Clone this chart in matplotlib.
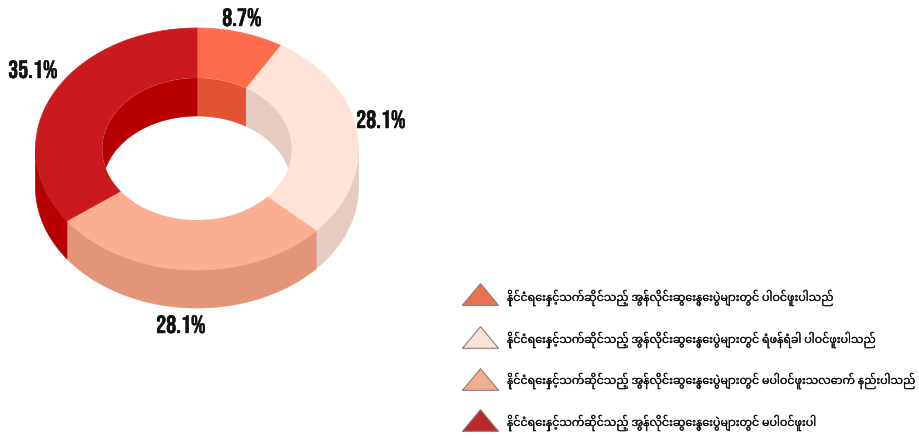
import numpy as np
import matplotlib
matplotlib.use("Agg")
import matplotlib.pyplot as plt
import matplotlib.patheffects as pe
from matplotlib.patches import Ellipse

values = [8.7, 28.1, 28.1, 35.1]
value_labels = ["8.7%", "28.1%", "28.1%", "35.1%"]
top_colors = ["#FF6B4D", "#FFE3D8", "#FBAE90", "#CB1A1E"]
side_colors = ["#E25333", "#E6CCC0", "#E29677", "#B70000"]
legend_colors = ["#E9714F", "#F8E3D8", "#F0AD90", "#B9292B"]
legend_labels = [
    "နိုင်ငံရေးနှင့်သက်ဆိုင်သည့် အွန်လိုင်းဆွေးနွေးပွဲများတွင် ပါဝင်ဖူးပါသည်",
    "နိုင်ငံရေးနှင့်သက်ဆိုင်သည့် အွန်လိုင်းဆွေးနွေးပွဲများတွင် ရံဖန်ရံခါ ပါဝင်ဖူးပါသည်",
    "နိုင်ငံရေးနှင့်သက်ဆိုင်သည့် အွန်လိုင်းဆွေးနွေးပွဲများတွင် မပါဝင်ဖူးသလောက် နည်းပါသည်",
    "နိုင်ငံရေးနှင့်သက်ဆိုင်သည့် အွန်လိုင်းဆွေးနွေးပွဲများတွင် မပါဝင်ဖူးပါ",
]

# ring geometry in pixels
cx, cy = 197, 150
rx, ry = 161.5, 121
hole = 0.587
depth = 38


def arc(a, b, scale, dy=0):
    t = np.radians(np.linspace(a, b, 100))
    return cx + scale * rx * np.sin(t), cy + dy - scale * ry * np.cos(t)


fig = plt.figure(figsize=(9.19, 4.39), dpi=100)
ax = fig.add_axes([0, 0, 1, 1])
ax.set_xlim(0, 919)
ax.set_ylim(439, 0)
ax.axis("off")

edges = np.concatenate([[0], np.cumsum(values)]) / sum(values) * 360

# outer walls, only the front half shows
for i in range(4):
    a, b = max(edges[i], 90), min(edges[i + 1], 270)
    if a < b:
        x1, y1 = arc(a, b, 1)
        x2, y2 = arc(b, a, 1, depth)
        ax.fill(np.r_[x1, x2], np.r_[y1, y2], color=side_colors[i], lw=0.5)

# top face
for i in range(4):
    x1, y1 = arc(edges[i], edges[i + 1], 1)
    x2, y2 = arc(edges[i + 1], edges[i], hole)
    ax.fill(np.r_[x1, x2], np.r_[y1, y2], color=top_colors[i], lw=0.5)

inner = Ellipse((cx, cy), 2 * hole * rx, 2 * hole * ry, color="white", lw=0, zorder=3)
ax.add_patch(inner)

# inner walls, only the back half shows
for i in range(4):
    for lo, hi in [(-90, 90), (270, 450)]:
        a, b = max(edges[i], lo), min(edges[i + 1], hi)
        if a < b:
            x1, y1 = arc(a, b, hole)
            x2, y2 = arc(b, a, hole, depth)
            p = ax.fill(np.r_[x1, x2], np.r_[y1, y2], color=side_colors[i], lw=0.5, zorder=4)[0]
            p.set_clip_path(inner)

label_pos = [(242, 18), (381, 120), (181, 325), (33, 70)]
for (x, y), s in zip(label_pos, value_labels):
    t = ax.text(x, y, s, fontsize=18, family=["Bebas Neue", "DejaVu Sans"], ha="center", va="center", color="#111111")
    t.set_path_effects([pe.withStroke(linewidth=0.3, foreground="#111111")])

tri = [(-1, -0.6), (1, -0.6), (0, 0.6), (-1, -0.6)]
legend_y = [295, 338, 380, 421]
text_y = [299, 341, 382, 424]
for y, ty, c, s in zip(legend_y, text_y, legend_colors, legend_labels):
    ax.scatter([480], [y], marker=tri, s=676, c=c, edgecolors="#8a7f78", linewidths=0.8)
    t = ax.text(507, ty, s, fontsize=7.95, family=["Noto Sans Myanmar", "DejaVu Sans"], va="center", color="#111111")
    t.set_path_effects([pe.withStroke(linewidth=0.15, foreground="#111111")])

fig.savefig("out.png", dpi=100)
